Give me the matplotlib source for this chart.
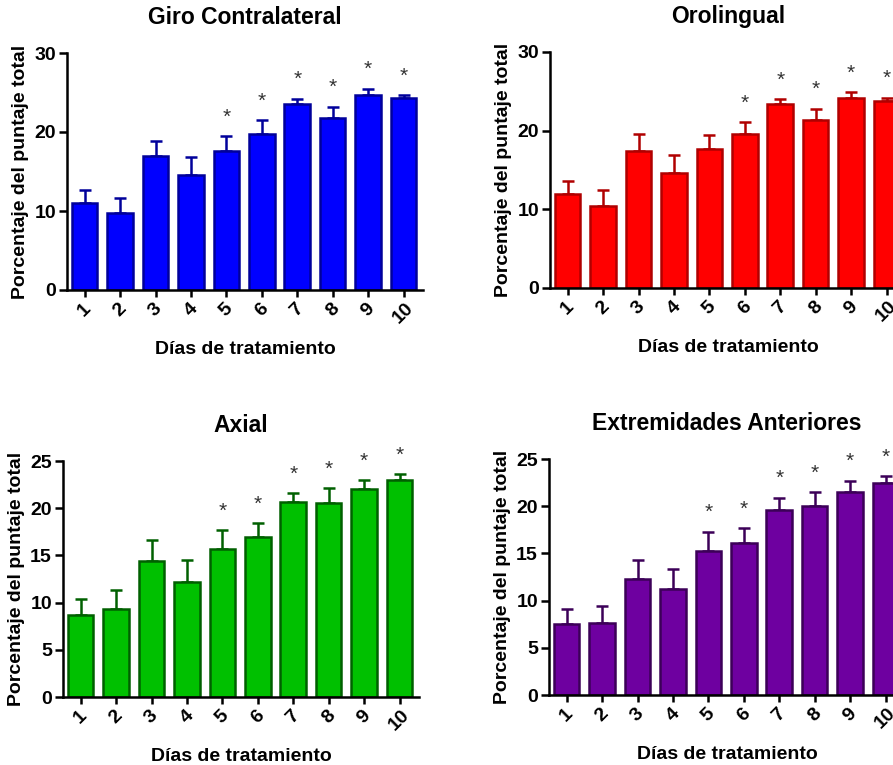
import numpy as np
import matplotlib
matplotlib.use("Agg")
import matplotlib.pyplot as plt

# ── DATA ──────────────────────────────────────────

DAYS = [1, 2, 3, 4, 5, 6, 7, 8, 9, 10]
DAY_LABELS = [str(d) for d in DAYS]

GIRO_MEAN = [11.0, 9.8, 17.0, 14.5, 17.6, 19.8, 23.5, 21.8, 24.7, 24.3]
GIRO_ERR = [1.7, 1.8, 1.9, 2.3, 1.9, 1.7, 0.7, 1.4, 0.8, 0.4]
GIRO_STARS = [5, 6, 7, 8, 9, 10]

ORO_MEAN = [11.9, 10.4, 17.4, 14.6, 17.7, 19.6, 23.4, 21.4, 24.1, 23.8]
ORO_ERR = [1.7, 2.1, 2.2, 2.3, 1.7, 1.5, 0.6, 1.4, 0.8, 0.4]
ORO_STARS = [6, 7, 8, 9, 10]

AXIAL_MEAN = [8.7, 9.3, 14.4, 12.2, 15.7, 16.9, 20.7, 20.6, 22.0, 23.0]
AXIAL_ERR = [1.7, 2.0, 2.2, 2.3, 2.0, 1.5, 0.9, 1.5, 1.0, 0.6]
AXIAL_STARS = [5, 6, 7, 8, 9, 10]

EXT_MEAN = [7.5, 7.6, 12.3, 11.2, 15.3, 16.1, 19.6, 20.0, 21.5, 22.5]
EXT_ERR = [1.6, 1.8, 2.0, 2.1, 2.0, 1.6, 1.3, 1.5, 1.2, 0.7]
EXT_STARS = [5, 6, 7, 8, 9, 10]

# ── STYLE ─────────────────────────────────────────

plt.rcParams["font.family"] = ["Liberation Sans", "DejaVu Sans"]
plt.rcParams["font.weight"] = "bold"

W, H = 893, 765

PANELS = [
    # title, mean, err, stars, ymax, yticks, fill, edge, (left, top, bottom) px
    ("Giro Contralateral", GIRO_MEAN, GIRO_ERR, GIRO_STARS, 30, [0, 10, 20, 30],
     "#0000FF", "#00009A", (67, 53, 290)),
    ("Orolingual", ORO_MEAN, ORO_ERR, ORO_STARS, 30, [0, 10, 20, 30],
     "#FF0000", "#B00000", (550, 52, 288)),
    ("Axial", AXIAL_MEAN, AXIAL_ERR, AXIAL_STARS, 25, [0, 5, 10, 15, 20, 25],
     "#00C000", "#006000", (63, 461, 697)),
    ("Extremidades Anteriores", EXT_MEAN, EXT_ERR, EXT_STARS, 25, [0, 5, 10, 15, 20, 25],
     "#6E00A0", "#3C0058", (549, 459, 695)),
]

AX_W_PX = 356

# ── PLOT ──────────────────────────────────────────

fig = plt.figure(figsize=(W / 100, H / 100), dpi=100)

for title, mean, err, stars, ymax, yticks, fill, edge, (lpx, tpx, bpx) in PANELS:
    ax = fig.add_axes([lpx / W, 1 - bpx / H, AX_W_PX / W, (bpx - tpx) / H])
    x = np.array(DAYS)
    ax.bar(x, mean, width=0.72, color=fill, edgecolor=edge, linewidth=1.8, zorder=2)
    ax.errorbar(x, mean, yerr=[np.zeros(len(err)), err], fmt="none",
                ecolor=edge, elinewidth=1.8, capsize=4.3, capthick=1.8, zorder=1)

    for d in stars:
        i = DAYS.index(d)
        ax.annotate("*", (d, mean[i] + err[i]), xytext=(0, 19),
                    textcoords="offset pixels", ha="center", va="center",
                    fontsize=15, fontweight="normal", color="#333333",
                    annotation_clip=False)

    ax.set_xlim(0.5, 10.55)
    ax.set_ylim(0, ymax)
    ax.set_yticks(yticks)
    ax.set_xticks(x)
    ax.set_xticklabels(DAY_LABELS, rotation=45, ha="center")
    ax.tick_params(axis="both", labelsize=14, width=1.8, length=6, direction="out")
    ax.tick_params(axis="x", pad=2, length=5)
    ax.tick_params(axis="y", pad=2)
    for s in ["top", "right"]:
        ax.spines[s].set_visible(False)
    for s in ["left", "bottom"]:
        ax.spines[s].set_linewidth(1.8)

    ax.set_title(title, fontsize=16.5, fontweight="bold", pad=21)
    ax.set_ylabel("Porcentaje del puntaje total", fontsize=14, fontweight="bold", labelpad=4)
    ax.set_xlabel("Días de tratamiento", fontsize=14, fontweight="bold", labelpad=10)

fig.savefig("out.png", dpi=100)
